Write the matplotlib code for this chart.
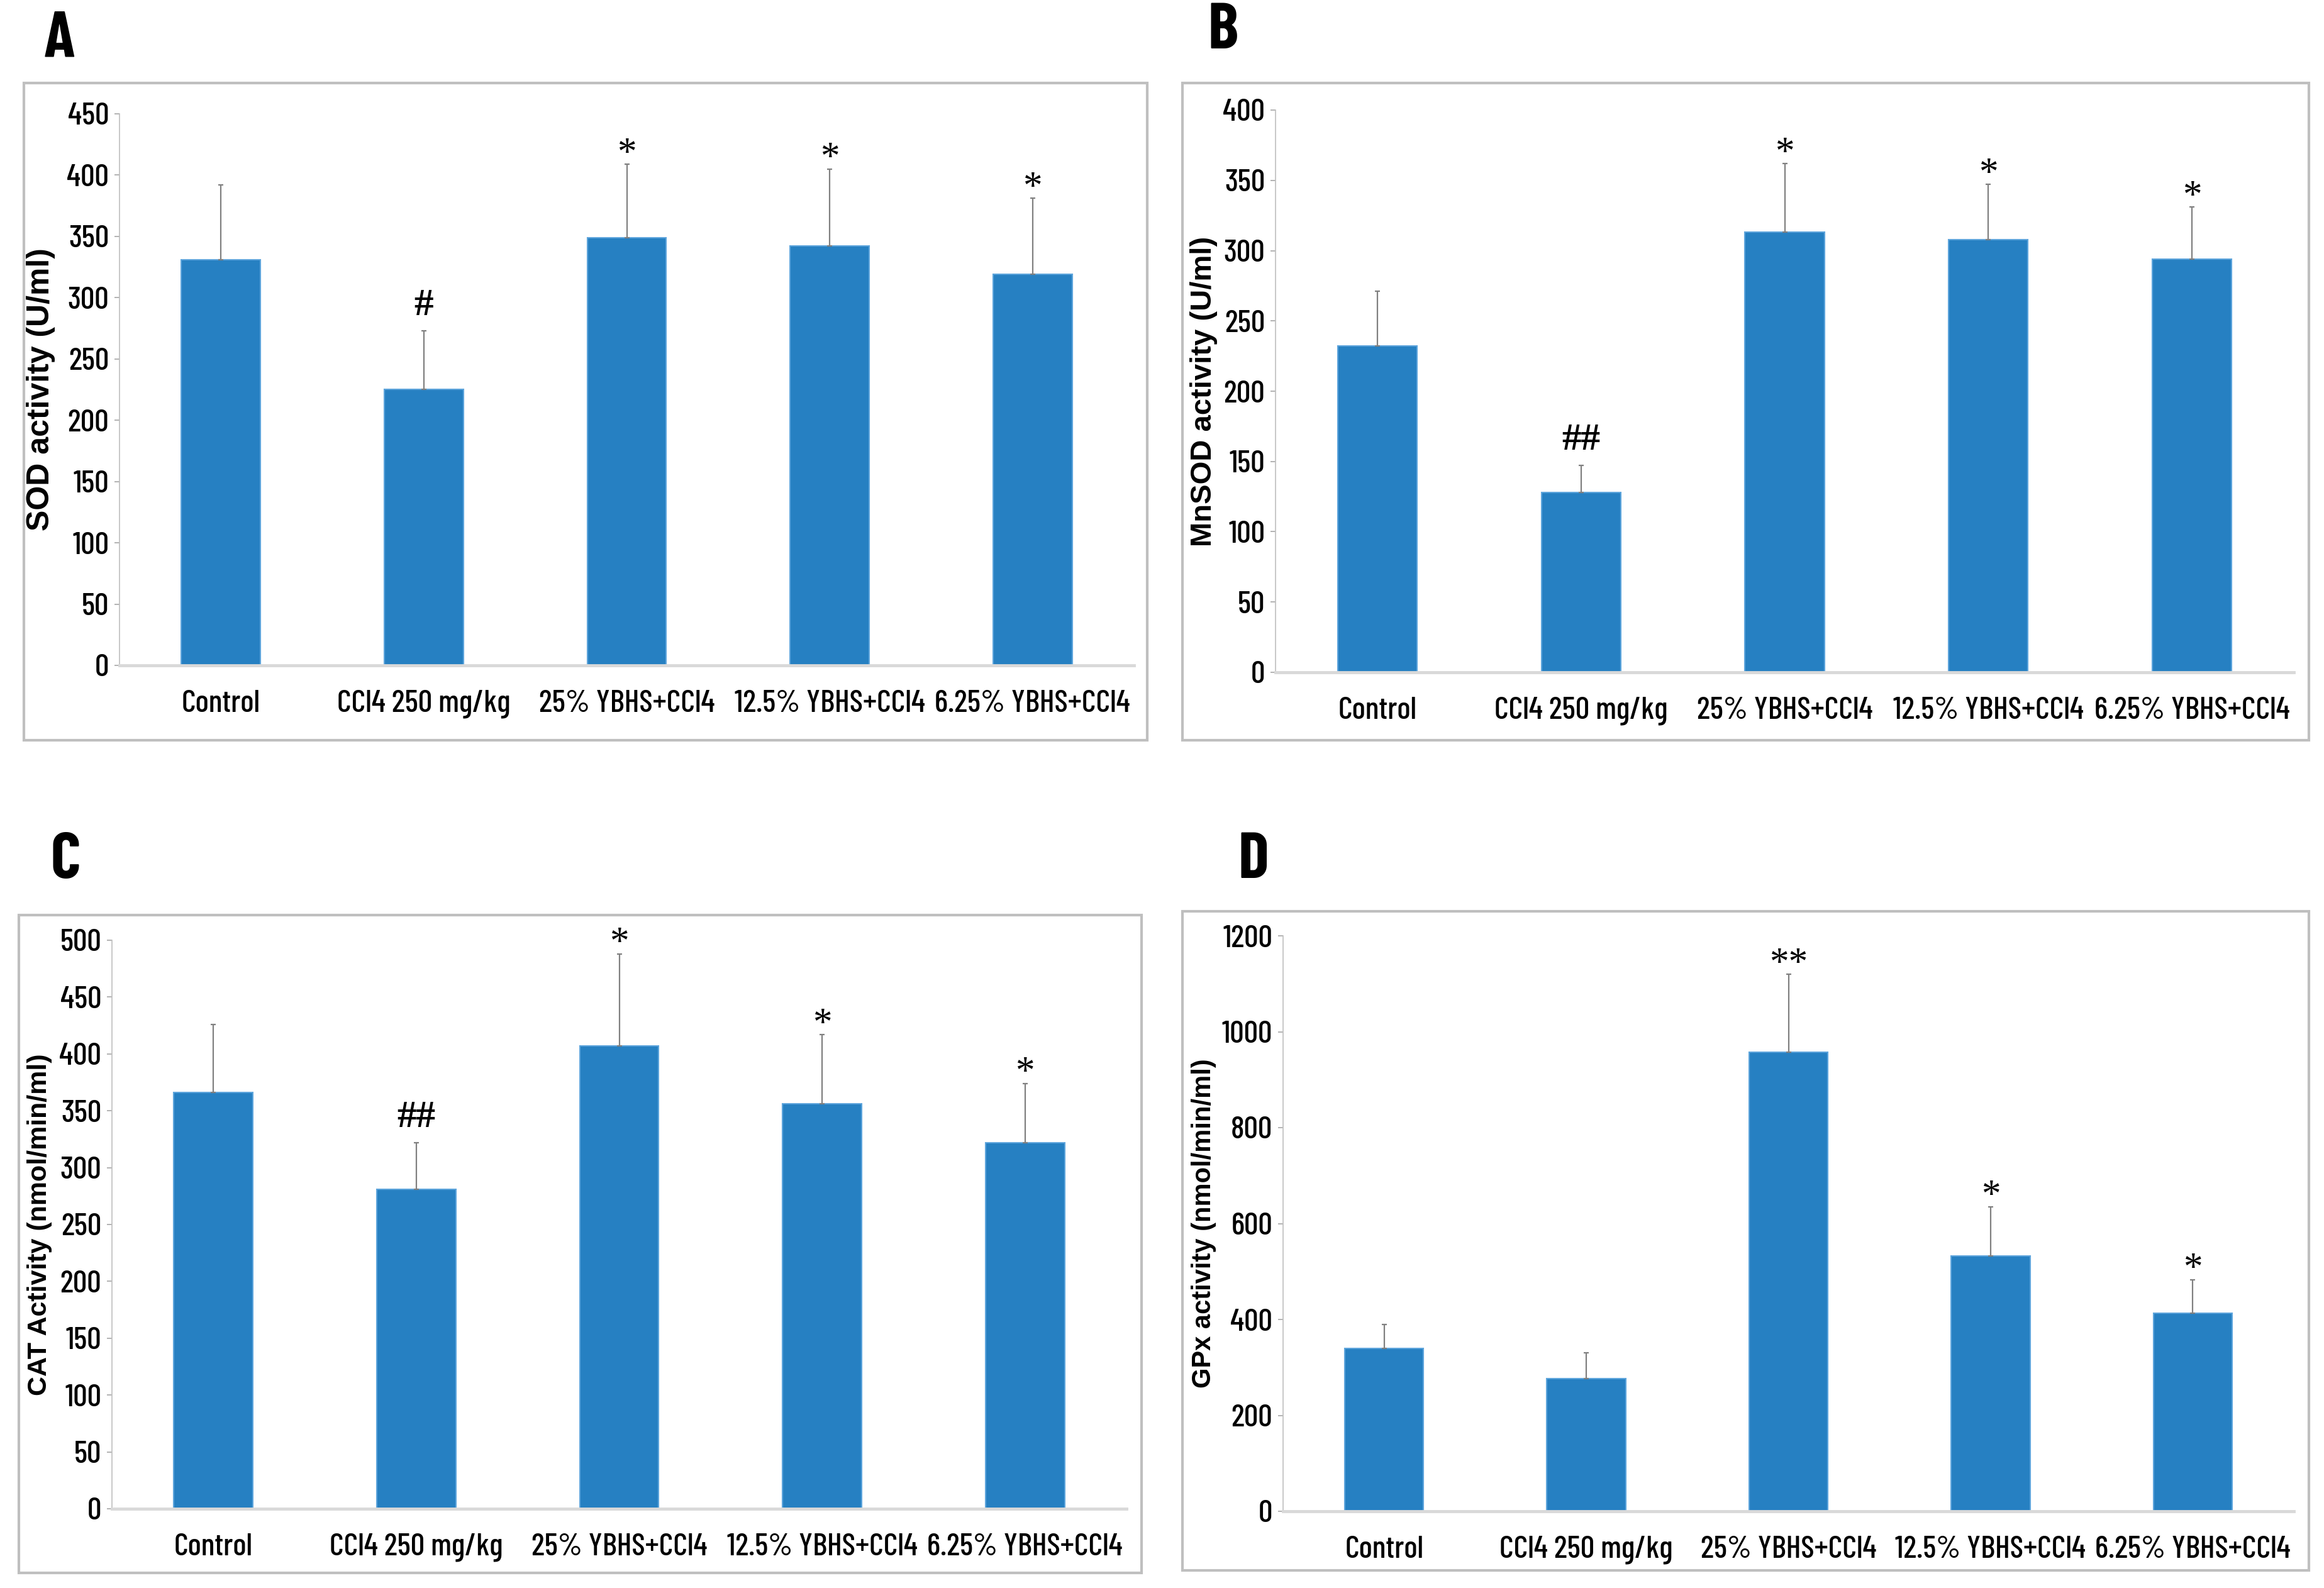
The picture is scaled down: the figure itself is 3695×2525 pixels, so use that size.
import numpy as np
import matplotlib
matplotlib.use("Agg")
import matplotlib.pyplot as plt
from matplotlib.patches import Rectangle

groups = ["Control", "CCl4 250 mg/kg", "25% YBHS+CCl4", "12.5% YBHS+CCl4", "6.25% YBHS+CCl4"]

sod = [331, 225, 349, 342, 319]
sod_err = [61, 48, 60, 63, 62]
sod_marks = ["", "#", "*", "*", "*"]

mnsod = [232, 128, 313, 308, 294]
mnsod_err = [39, 19, 49, 39, 37]
mnsod_marks = ["", "##", "*", "*", "*"]

cat = [366, 281, 407, 356, 322]
cat_err = [60, 41, 81, 61, 52]
cat_marks = ["", "##", "*", "*", "*"]

gpx = [340, 277, 958, 533, 413]
gpx_err = [50, 53, 162, 102, 70]
gpx_marks = ["", "", "**", "*", "*"]

W, H = 3695, 2525
NARROW = ["Barlow Condensed", "Archivo Narrow", "DejaVu Sans"]
BAR = "#2680c2"
EDGE = "#5ea5dc"


def fx(px):
    return px / W


def fy(py):
    return 1 - py / H


def panel(fig, box, frame, letter, letter_xy, vals, errs, marks, ylab, ylab_size,
          ymax, ystep, labx):
    l, r, t, b = box
    ax = fig.add_axes([fx(l), fy(b), fx(r) - fx(l), fy(t) - fy(b)])
    x = np.arange(len(groups))
    ax.bar(x, vals, width=0.39, color=BAR, edgecolor=EDGE, linewidth=1.5, zorder=2)
    ax.errorbar(x, vals, yerr=[np.zeros(len(vals)), errs], fmt="none",
                ecolor="#808080", elinewidth=1.6, capsize=3, capthick=1.6, zorder=3)
    for xi, v, e, m in zip(x, vals, errs, marks):
        if m:
            # hash sits on the baseline, the serif asterisk sits high in its box
            off = 18 if "#" in m else 1
            ax.annotate(m, (xi, v + e), xytext=(0, off), textcoords="offset points",
                        ha="center", va="baseline", fontsize=44,
                        fontweight="bold" if "#" in m else "normal",
                        family=["Liberation Serif", "DejaVu Serif"])
    ax.set_xlim(-0.5, len(groups) - 0.5)
    ax.set_ylim(0, ymax)
    ax.set_yticks(np.arange(0, ymax + 1, ystep))
    ax.set_xticks(x)
    ax.set_xticklabels(groups, family=NARROW, fontsize=36, fontweight="medium")
    for lab in ax.get_yticklabels():
        lab.set_family(NARROW)
        lab.set_fontsize(36)
        lab.set_fontweight("medium")
    ax.tick_params(axis="x", length=0, pad=28)
    ax.tick_params(axis="y", length=6, width=1.2, color="#a6a6a6", pad=6)
    for s in ["top", "right"]:
        ax.spines[s].set_visible(False)
    ax.spines["bottom"].set_color("#d9d9d9")
    ax.spines["bottom"].set_linewidth(3.5)
    ax.spines["left"].set_color("#bfbfbf")
    ax.spines["left"].set_linewidth(1.2)
    ax.set_ylabel(ylab, fontsize=ylab_size, fontweight="bold",
                  family=["Liberation Sans", "DejaVu Sans"])
    ax.yaxis.set_label_coords(labx, 0.5)

    fl, fr, ft, fb = frame
    fig.patches.append(Rectangle((fx(fl), fy(fb)), fx(fr) - fx(fl), fy(ft) - fy(fb),
                                 transform=fig.transFigure, fill=False,
                                 edgecolor="#bfbfbf", linewidth=3))
    fig.text(fx(letter_xy[0]), fy(letter_xy[1]), letter, fontsize=74, fontweight="bold",
             family=NARROW, ha="left", va="baseline")
    return ax


fig = plt.figure(figsize=(W / 100, H / 100), dpi=100)

panel(fig, (190, 1803, 181, 1058), (38, 1824, 132, 1177), "A", (70, 91),
      sod, sod_err, sod_marks, "SOD activity (U/ml)", 36, 450, 50, -0.063)
panel(fig, (2028, 3647, 175, 1069), (1880, 3671, 132, 1177), "B", (1920, 77),
      mnsod, mnsod_err, mnsod_marks, "MnSOD activity (U/ml)", 34, 400, 50, -0.057)
panel(fig, (178, 1791, 1495, 2399), (30, 1815, 1455, 2501), "C", (80, 1396),
      cat, cat_err, cat_marks, "CAT Activity (nmol/min/ml)", 31, 500, 50, -0.059)
panel(fig, (2040, 3647, 1488, 2403), (1880, 3671, 1449, 2497), "D", (1968, 1396),
      gpx, gpx_err, gpx_marks, "GPx activity (nmol/min/ml)", 30, 1200, 200, -0.066)

fig.savefig("out.png", dpi=100, facecolor="white")
